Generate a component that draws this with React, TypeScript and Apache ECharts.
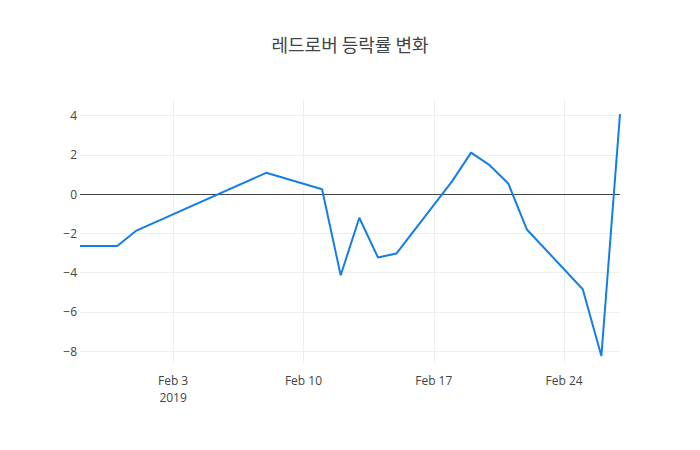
import React, { useEffect, useRef } from "react";
import * as echarts from "echarts";

const dates = [
    "2019-01-29", "2019-01-30", "2019-01-31", "2019-02-01", "2019-02-08",
    "2019-02-11", "2019-02-12", "2019-02-13", "2019-02-14", "2019-02-15",
    "2019-02-18", "2019-02-19", "2019-02-20", "2019-02-21", "2019-02-22",
    "2019-02-25", "2019-02-26", "2019-02-27",
];
const changes = [
    -2.64, -2.64, -2.64, -1.87, 1.09,
    0.25, -4.13, -1.2, -3.22, -3.02,
    0.68, 2.12, 1.48, 0.55, -1.8,
    -4.84, -8.24, 4.08,
];
const xTicks = ["2019-02-03", "2019-02-10", "2019-02-17", "2019-02-24"];
const yTicks = [-8, -6, -4, -2, 0, 2, 4];

const title = "레드로버 등락률 변화";
const fontFamily = '"Open Sans", "Noto Sans", sans-serif';

const ts = (d: string) => new Date(d + "T00:00:00").getTime();

export default function App() {
    const chartRef = useRef<HTMLDivElement>(null);

    useEffect(() => {
        document.body.style.margin = "0";
        if (chartRef.current === null) return;
        const chart = echarts.init(chartRef.current, undefined, { renderer: "svg" });

        const option: any = {
            animation: false,
            backgroundColor: "#fff",
            title: {
                text: title,
                left: "center",
                top: 30,
                textStyle: {
                    fontFamily: '"Noto Sans CJK KR", sans-serif',
                    fontSize: 18,
                    fontWeight: "normal",
                    color: "#444",
                },
            },
            grid: { left: 80, right: 80, top: 100, bottom: 87 },
            xAxis: {
                // timestamps on a value axis, labelled as dates
                type: "value",
                min: ts("2019-01-29"),
                max: ts("2019-02-27"),
                axisLine: { show: false },
                axisTick: { show: false, customValues: xTicks.map(ts) },
                splitLine: { show: true, lineStyle: { color: "#eee", width: 1 } },
                axisLabel: {
                    customValues: xTicks.map(ts),
                    color: "#444",
                    fontFamily,
                    fontSize: 12,
                    margin: 9,
                    lineHeight: 17,
                    formatter: (v: number) => {
                        const d = new Date(v);
                        const s = "Feb " + d.getDate();
                        return d.getDate() === 3 ? s + "\n" + d.getFullYear() : s;
                    },
                },
            },
            yAxis: {
                type: "value",
                min: -8.6,
                max: 4.8,
                axisLine: { show: false },
                axisTick: { show: false, customValues: yTicks },
                splitLine: { show: true, lineStyle: { color: "#eee", width: 1 } },
                axisLabel: {
                    customValues: yTicks,
                    color: "#444",
                    fontFamily,
                    fontSize: 12,
                    margin: 3,
                    formatter: (v: number) => (v < 0 ? "\u2212" + Math.abs(v) : String(v)),
                },
            },
            series: [
                {
                    type: "line",
                    data: dates.map((d, i) => [ts(d), changes[i]]),
                    showSymbol: false,
                    lineStyle: { color: "#147ee8", width: 2 },
                    itemStyle: { color: "#147ee8" },
                    z: 3,
                    markLine: {
                        silent: true,
                        symbol: "none",
                        label: { show: false },
                        lineStyle: { color: "#444", width: 1, type: "solid" },
                        data: [{ yAxis: 0 }],
                        z: 2,
                    },
                },
            ],
        };

        chart.setOption(option);
        return () => {
            chart.dispose();
        };
    }, []);

    return <div ref={chartRef} style={{ width: "700px", height: "450px" }} />;
}
